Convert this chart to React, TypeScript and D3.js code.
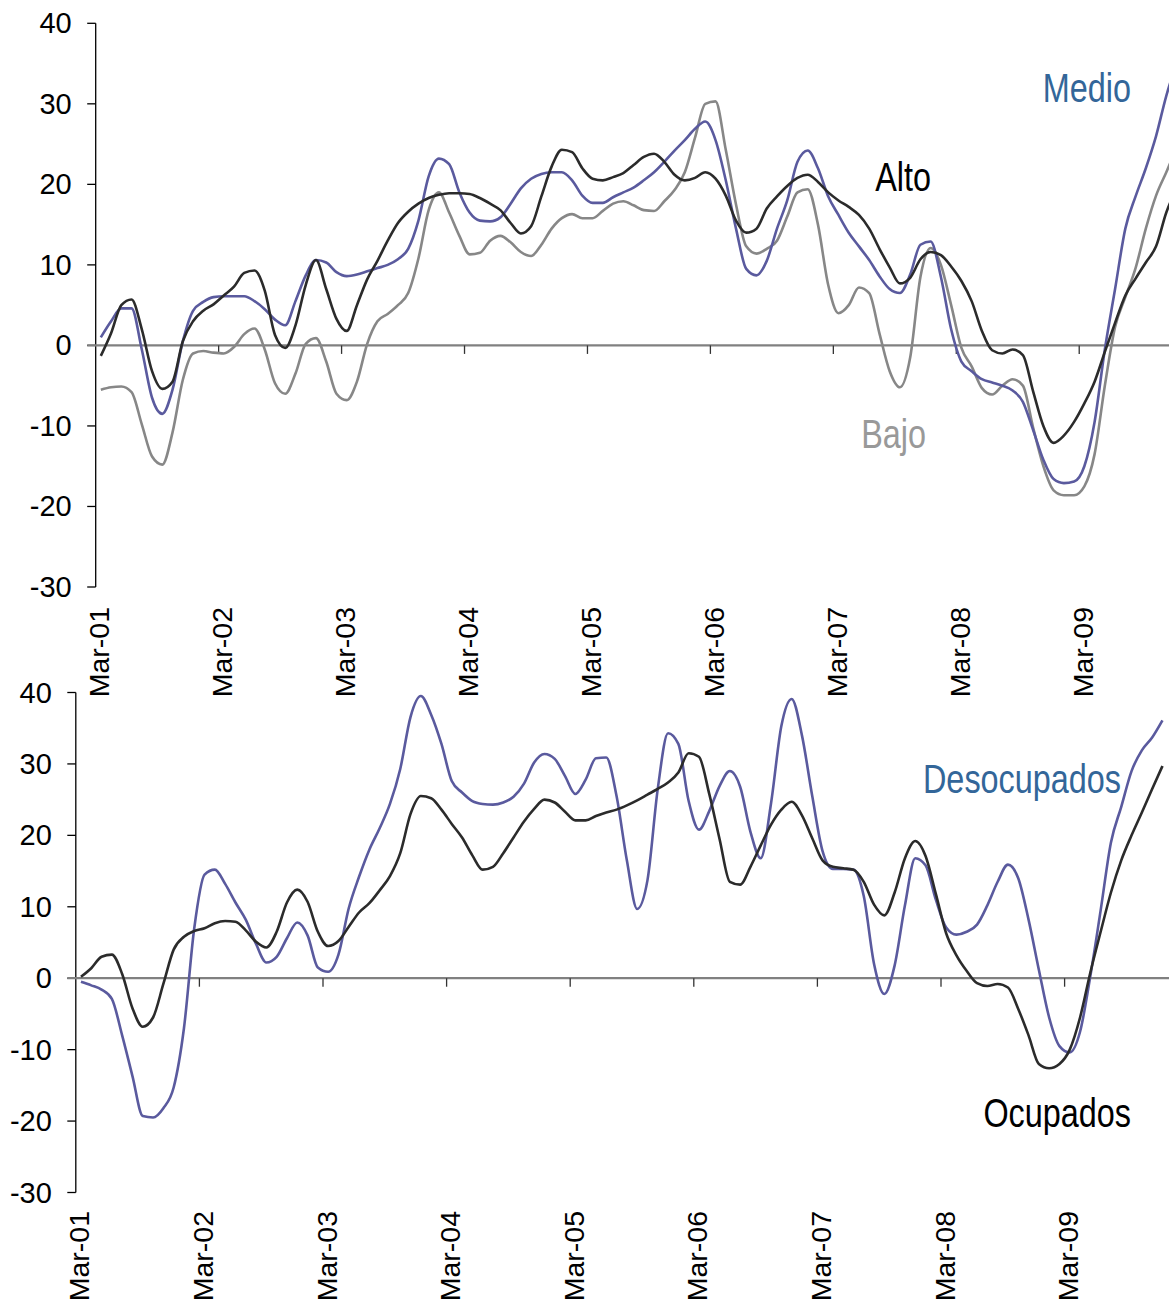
import React from 'react';
import * as d3 from 'd3';

// monthly index, Mar-01 .. Dec-09
const yearLabels = ['Mar-01', 'Mar-02', 'Mar-03', 'Mar-04', 'Mar-05', 'Mar-06', 'Mar-07', 'Mar-08', 'Mar-09'];
const yTicks = [40, 30, 20, 10, 0, -10, -20, -30];

// top panel
const medio = [
  1.0, 3.0, 4.6, 4.6, -0.5, -6.5, -8.5, -5.5, 0.5, 4.3,
  5.4, 6.0, 6.1, 6.1, 6.1, 5.5, 4.5, 3.2, 2.5, 5.5,
  8.7, 10.6, 10.3, 9.1, 8.6, 8.8, 9.2, 9.6, 10.0, 10.7,
  12.0, 15.5, 21.0, 23.2, 22.5, 19.0, 16.5, 15.5, 15.4, 15.9,
  17.6, 19.5, 20.7, 21.3, 21.5, 21.5, 20.5, 18.6, 17.7, 17.7,
  18.4, 19.0, 19.6, 20.5, 21.5, 22.8, 24.2, 25.5, 26.9, 27.8,
  25.5, 20.5, 14.5, 9.5, 8.7, 10.5, 14.5, 18.0, 22.8, 24.2,
  22.0, 18.5, 16.2, 14.0, 12.3, 10.6, 8.6, 7.0, 6.5, 8.8,
  12.5, 12.9, 8.5, 2.0, -2.0, -3.2, -4.2, -4.6, -5.0, -5.6,
  -7.0, -10.5, -14.2, -16.6, -17.1, -16.9, -15.0, -9.5, -0.5, 7.0,
  14.5, 18.5, 22.0, 26.0, 31.0, 35.0,
];
const alto = [
  -1.3, 1.5, 5.0, 5.7, 2.0, -3.2, -5.4, -4.5, 0.5, 3.0,
  4.3, 5.1, 6.2, 7.3, 9.0, 9.3, 6.8, 1.3, -0.3, 2.5,
  7.5, 10.6, 7.0, 3.3, 1.8, 5.0, 8.2, 10.5, 13.0, 15.2,
  16.6, 17.6, 18.3, 18.7, 18.9, 18.9, 18.8, 18.3, 17.6, 16.8,
  15.2, 13.9, 14.8, 18.5, 22.2, 24.3, 24.0, 22.0, 20.7, 20.5,
  20.9, 21.4, 22.4, 23.4, 23.8, 22.8, 21.2, 20.5, 20.8, 21.5,
  20.7, 18.6, 15.5, 14.0, 14.5, 17.0, 18.5, 19.8, 20.8, 21.2,
  20.3, 19.0, 18.0, 17.2, 16.2, 14.5, 12.0, 9.7, 7.7, 8.4,
  10.7, 11.6, 11.2, 9.8, 8.0, 5.5, 1.8, -0.6, -1.0, -0.5,
  -1.2, -5.7, -10.0, -12.1, -11.2, -9.5, -7.2, -4.5, -0.8, 2.8,
  6.2, 8.3, 10.3, 12.3, 16.5, 19.5,
];
const bajo = [
  -5.5, -5.2, -5.1, -5.8, -9.8, -13.8, -14.8, -10.8, -4.3, -1.0,
  -0.7, -0.9, -1.0, -0.2, 1.4, 2.1, -0.5, -4.7, -6.0, -3.5,
  0.2, 0.9, -2.0, -6.0, -6.8, -4.5, 0.2, 3.0, 3.9, 5.0,
  6.5, 10.8, 16.8, 19.0, 16.5, 13.6, 11.3, 11.5, 13.0, 13.6,
  12.8, 11.6, 11.1, 12.5, 14.5, 15.8, 16.3, 15.8, 15.8, 16.7,
  17.6, 17.9, 17.4, 16.8, 16.7, 17.9, 19.3, 21.5, 25.8, 30.0,
  30.3, 24.3, 17.5, 12.3, 11.4, 12.0, 13.0, 16.0, 19.0, 19.4,
  15.0, 7.5, 4.0, 5.0, 7.2, 6.5, 1.5, -3.2, -5.2, -1.5,
  8.5, 12.1, 10.0, 5.0, -0.3, -2.6, -5.3, -6.1, -5.0, -4.2,
  -5.0, -10.2, -15.0, -18.0, -18.6, -18.6, -17.5, -13.5, -5.0, 2.3,
  6.0, 9.6, 14.5, 18.6, 21.5, 24.5,
];

// bottom panel
const desocupados = [
  -0.5, -1.0, -1.6, -2.9, -8.0, -13.7, -19.3, -19.5, -18.2, -15.3,
  -7.0, 7.0, 14.5, 15.2, 13.2, 10.6, 8.2, 4.8, 2.2, 3.0,
  5.6, 7.8, 6.0, 1.5, 0.9, 3.3, 9.8, 14.2, 18.0, 21.0,
  24.4, 29.3, 36.6, 39.5, 36.9, 32.8, 27.6, 26.0, 24.8, 24.4,
  24.3, 24.6, 25.4, 27.2, 30.2, 31.4, 30.7, 28.3, 25.8, 27.8,
  30.8, 30.9, 25.5, 16.5, 9.7, 13.7, 26.5, 34.3, 32.8, 24.8,
  20.8, 23.4, 26.9, 29.0, 26.8, 20.5, 16.8, 24.5, 35.3, 39.1,
  34.0, 25.5, 17.8, 15.3, 15.3, 15.2, 11.5, 2.0, -2.2, 1.8,
  10.2, 16.8, 15.8, 11.0, 7.1, 6.1, 6.5, 7.5, 10.2, 13.5,
  15.9, 14.0, 8.2, 1.2, -5.5, -9.5, -10.4, -7.5, 0.3, 9.5,
  19.0, 24.0, 29.0, 31.9, 33.7, 36.1,
];
const ocupados = [
  0.2, 1.4, 3.0, 3.3, 0.6, -4.2, -6.8, -5.5, -0.8, 4.0,
  5.8, 6.6, 7.0, 7.7, 8.0, 7.9, 6.7, 5.1, 4.3, 6.5,
  10.6, 12.4, 10.7, 6.5, 4.5, 5.2, 7.2, 9.2, 10.5, 12.3,
  14.3, 17.5, 23.0, 25.5, 25.2, 23.6, 21.6, 19.7, 17.2, 15.2,
  15.6, 17.5, 19.7, 21.9, 23.7, 25.0, 24.6, 23.3, 22.1, 22.1,
  22.7, 23.2, 23.6, 24.2, 24.9, 25.7, 26.5, 27.4, 28.8, 31.5,
  31.0, 25.8, 19.5, 13.5, 13.1, 15.6, 18.6, 21.5, 23.6, 24.7,
  22.8, 19.6, 16.5, 15.6, 15.4, 15.2, 13.5, 10.3, 8.8, 12.0,
  16.8, 19.2, 17.1, 11.8, 6.3, 3.2, 1.0, -0.7, -1.1, -0.8,
  -1.3, -4.3, -8.0, -12.0, -12.6, -12.0, -10.0, -5.5, 0.8, 6.5,
  12.0, 16.5, 20.0, 23.2, 26.5, 29.7,
];

const BLUE = '#5a5a9e';
const DARK = '#2b2b2b';
const GRAY = '#878787';
const FONT = '"Liberation Sans", Arial, sans-serif';

type Series = { values: number[], color: string }
type Label = { text: string, x: number, y: number, color: string }

type PanelProps = {
  axisX: number,
  step: number,
  top: number,
  bottom: number,
  labelTop: number,
  series: Series[],
  labels: Label[]
}

const Panel: React.FC<PanelProps> = ({ axisX, step, top, bottom, labelTop, series, labels }) => {
  const x = d3.scaleLinear().domain([0, 12]).range([axisX, axisX + 12 * step]);
  const y = d3.scaleLinear().domain([-30, 40]).range([bottom, top]);

  // Excel-style smoothed monthly lines
  const line = d3.line<number>()
    .x((_, i) => x(i + 0.5))
    .y(d => y(d))
    .curve(d3.curveMonotoneX)

  const zero = y(0);

  return (
    <g>
      {/* y axis */}
      <line x1={axisX} x2={axisX} y1={top} y2={bottom} stroke="#000" strokeWidth={1.3} />
      {yTicks.map(t => (
        <g key={t}>
          <line x1={axisX - 8.5} x2={axisX} y1={y(t)} y2={y(t)} stroke="#000" strokeWidth={1.3} />
          <text x={axisX - 24} y={y(t) + 10} textAnchor="end" fontSize={29} fontFamily={FONT} fill="#000">{t}</text>
        </g>
      ))}

      {/* zero line with year ticks */}
      <line x1={axisX - 8.5} x2={1169} y1={zero} y2={zero} stroke="#808080" strokeWidth={2.2} />
      {yearLabels.map((lab, k) => (
        <g key={lab}>
          {k > 0 && <line x1={x(12 * k)} x2={x(12 * k)} y1={zero} y2={zero + 8.5} stroke="#333" strokeWidth={1.3} />}
          <text
            transform={`translate(${x(12 * k) + 13.5},${labelTop}) rotate(-90)`}
            textAnchor="end" fontSize={28.5} fontFamily={FONT} fill="#000">{lab}</text>
        </g>
      ))}

      {series.map((s, i) => (
        <path key={i} d={line(s.values) ?? ''} fill="none" stroke={s.color} strokeWidth={2.6} strokeLinejoin="round" />
      ))}

      {labels.map(l => (
        <text key={l.text} transform={`translate(${l.x},${l.y}) scale(0.81,1)`} textAnchor="end"
          fontSize={40} fontFamily={FONT} fill={l.color}>{l.text}</text>
      ))}
    </g>
  )
}

const App: React.FC = () => {
  return (
    <div style={{ position: 'absolute', left: 0, top: 0, width: 1169, height: 1305, overflow: 'hidden', background: '#fff' }}>
      <svg width={1169} height={1305} viewBox="0 0 1169 1305">
        <rect width={1169} height={1305} fill="#fff" />
        <Panel
          axisX={95.7} step={10.245} top={23.3} bottom={587} labelTop={607}
          series={[
            { values: bajo, color: GRAY },
            { values: medio, color: BLUE },
            { values: alto, color: DARK },
          ]}
          labels={[
            { text: 'Medio', x: 1131, y: 102, color: '#336699' },
            { text: 'Alto', x: 931, y: 191, color: '#000' },
            { text: 'Bajo', x: 926, y: 448, color: '#999999' },
          ]}
        />
        <Panel
          axisX={75.8} step={10.3} top={692.5} bottom={1192.5} labelTop={1211}
          series={[
            { values: desocupados, color: BLUE },
            { values: ocupados, color: DARK },
          ]}
          labels={[
            { text: 'Desocupados', x: 1121, y: 793, color: '#336699' },
            { text: 'Ocupados', x: 1131, y: 1127, color: '#000' },
          ]}
        />
      </svg>
    </div>
  )
}

export default App
